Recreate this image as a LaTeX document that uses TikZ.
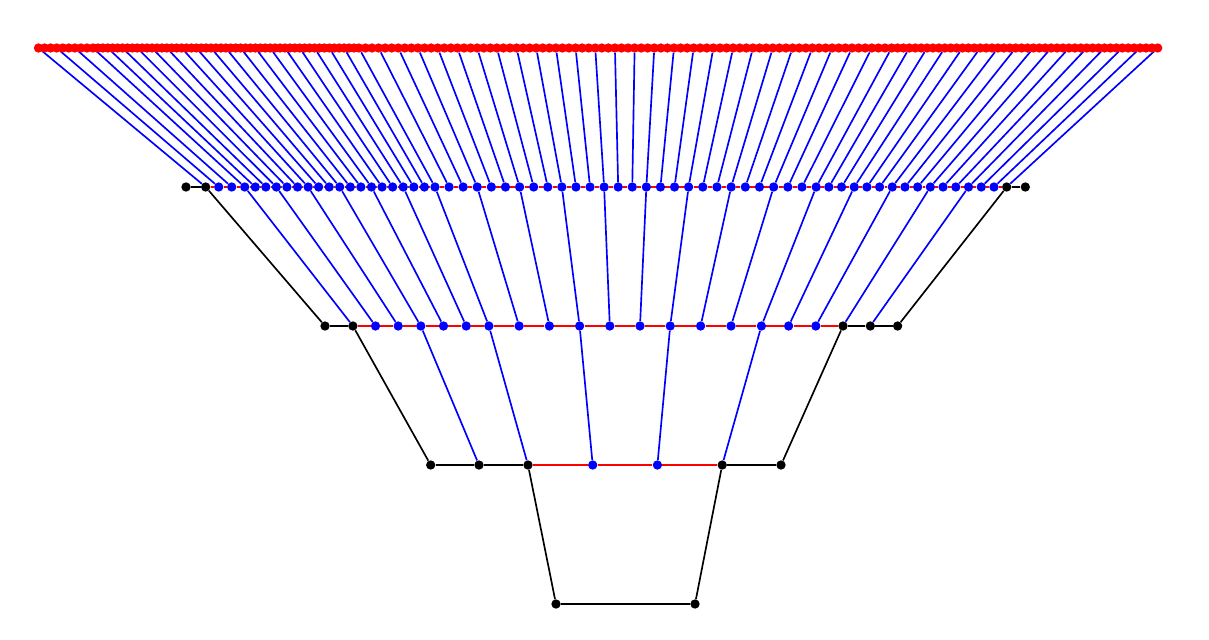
\documentclass[tikz,border=0pt]{standalone}
\usepackage{amssymb}
\usepackage{amsmath, amsthm}
\usepackage{tikz}
\usetikzlibrary{backgrounds}

\tikzset{
  ball/.style={circle, fill=#1, inner sep=0pt, minimum size=7pt},
  ball/.default=black,
  rline/.style={draw=red, line width=1.25pt},
  bline/.style={draw=blue, line width=1.25pt},
  kline/.style={draw=black, line width=1.25pt}
}

% positions on the middle row, the other rows are read off from it
\def\rowB{{325.0,352.9,375.5,398.2,420.8,443.5,466.2,488.9,519.1,549.4,579.6,609.8,640.0,670.2,700.6,731.0,761.4,788.6,815.8,843.0,870.3,897.6}}

\begin{document}
\begin{tikzpicture}[x=0.75pt,y=0.75pt,yscale=-1,xscale=1]
\useasboundingbox (0,0) rectangle (1209,639);

            %Row: bottom
            \node[ball] (d-0) at (556,604) {};
            \node[ball] (d-1) at (695,604) {};
            %Row: third
            \foreach \x [count=\i from 0] in {430.7,479.0,528.0,592.7,657.4,722.2,781.0}{
              \ifnum\i=3 \def\cc{blue}\else\ifnum\i=4 \def\cc{blue}\else\def\cc{black}\fi\fi
              \node[ball=\cc] (c-\i) at (\x,465) {};
            }
            %Row: second
            \foreach \i in {0,...,21}{
              \pgfmathsetmacro{\xx}{\rowB[\i]}
              \def\cc{blue}
              \ifnum\i<2 \def\cc{black}\fi
              \ifnum\i>18 \def\cc{black}\fi
              \node[ball=\cc] (b-\i) at (\xx,326) {};
            }
            %Row: first
            \node[ball] (a-0) at (186,187) {};
            \foreach \m in {0,...,20}{
              \pgfmathtruncatemacro{\mm}{\m+1}
              \foreach \r in {0,1,2}{
                \pgfmathsetmacro{\xx}{205.7+1.3989*(\rowB[\m]+\r/3*(\rowB[\mm]-\rowB[\m])-325)}
                \pgfmathtruncatemacro{\j}{3*\m+\r+1}
                \ifnum\j=1 \def\cc{black}\else\def\cc{blue}\fi
                \node[ball=\cc] (a-\j) at (\xx,187) {};
              }
            }
            \node[ball] (a-64) at (1006.7,187) {};
            \node[ball] (a-65) at (1025.3,187) {};
            %Row: top
            \foreach \m in {0,...,20}{
              \pgfmathtruncatemacro{\mm}{\m+1}
              \foreach \q in {0,...,8}{
                \pgfmathsetmacro{\xx}{38.5+1.9549*(\rowB[\m]+\q/9*(\rowB[\mm]-\rowB[\m])-325)}
                \pgfmathtruncatemacro{\j}{9*\m+\q}
                \node[ball=red] (t-\j) at (\xx,48) {};
              }
            }
            \node[ball=red] (t-189) at (1157.7,48) {};

\begin{pgfonlayer}{background}
            %Lines: top row and links down
            \foreach \j [evaluate=\j as \k using int(\j+1)] in {0,...,188}
              \draw[rline] (t-\j) -- (t-\k);
            \foreach \j [evaluate=\j as \k using int(3*\j), evaluate=\j as \n using int(\j+1)] in {0,...,63}
              \draw[bline] (t-\k) -- (a-\n);
            %Lines: first row and links down
            \draw[kline] (a-0) -- (a-1);
            \foreach \j [evaluate=\j as \k using int(\j+1)] in {1,...,63}
              \draw[rline] (a-\j) -- (a-\k);
            \draw[kline] (a-64) -- (a-65);
            \draw[kline] (a-1) -- (b-0);
            \draw[kline] (a-64) -- (b-21);
            \foreach \m [evaluate=\m as \k using int(3*\m+1)] in {1,...,20}
              \draw[bline] (a-\k) -- (b-\m);
            %Lines: second row and links down
            \draw[kline] (b-0) -- (b-1);
            \foreach \j [evaluate=\j as \k using int(\j+1)] in {1,...,18}
              \draw[rline] (b-\j) -- (b-\k);
            \draw[kline] (b-19) -- (b-20) -- (b-21);
            \draw[kline] (b-1) -- (c-0);
            \draw[kline] (b-19) -- (c-6);
            \foreach \m [evaluate=\m as \k using int(3*\m+1)] in {1,...,5}
              \draw[bline] (b-\k) -- (c-\m);
            %Lines: third row and bottom
            \draw[kline] (c-0) -- (c-1) -- (c-2);
            \draw[rline] (c-2) -- (c-3) -- (c-4) -- (c-5);
            \draw[kline] (c-5) -- (c-6);
            \draw[kline] (c-2) -- (d-0) -- (d-1) -- (c-5);
\end{pgfonlayer}

\end{tikzpicture}
\end{document}
